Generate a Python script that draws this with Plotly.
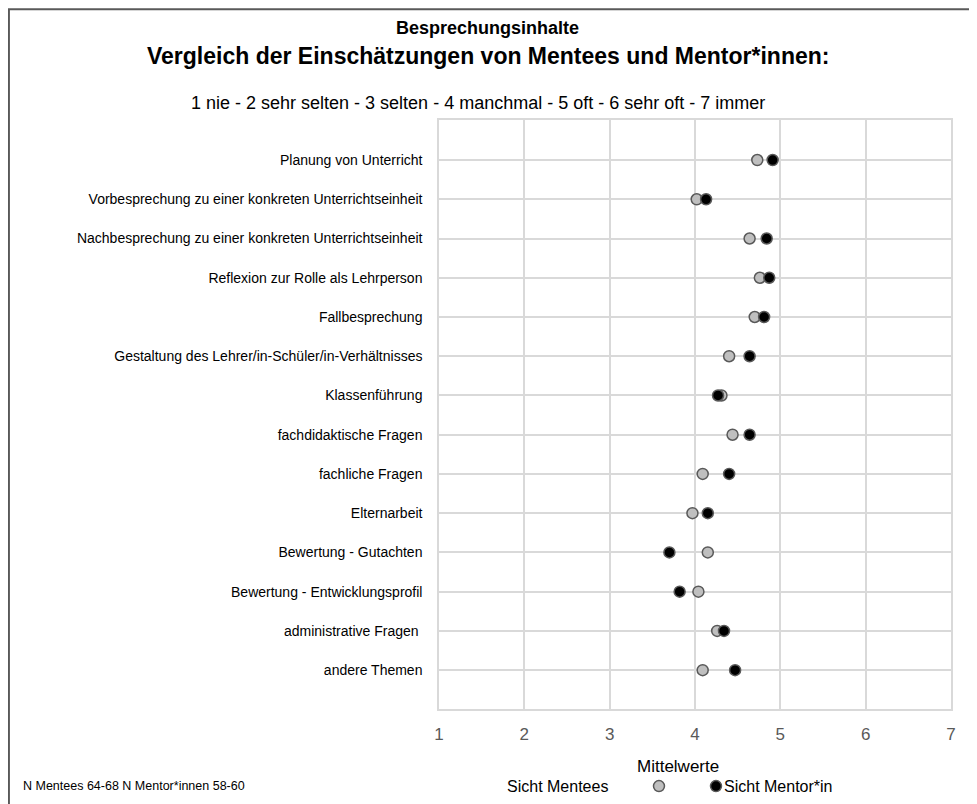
import plotly.graph_objects as go

categories = [
    "Planung von Unterricht",
    "Vorbesprechung zu einer konkreten Unterrichtseinheit",
    "Nachbesprechung zu einer konkreten Unterrichtseinheit",
    "Reflexion zur Rolle als Lehrperson",
    "Fallbesprechung",
    "Gestaltung des Lehrer/in-Schüler/in-Verhältnisses",
    "Klassenführung",
    "fachdidaktische Fragen",
    "fachliche Fragen",
    "Elternarbeit",
    "Bewertung - Gutachten",
    "Bewertung - Entwicklungsprofil",
    "administrative Fragen ",
    "andere Themen",
]
mentees = [4.73, 4.02, 4.64, 4.76, 4.70, 4.40, 4.31, 4.44, 4.09, 3.97, 4.15, 4.04, 4.26, 4.09]
mentoren = [4.91, 4.13, 4.84, 4.87, 4.81, 4.64, 4.27, 4.64, 4.40, 4.15, 3.70, 3.82, 4.34, 4.47]
x_ticks = [1, 2, 3, 4, 5, 6, 7]

FONT = "Liberation Sans, Arial, sans-serif"
GRID = "#d9d9d9"

fig = go.Figure()

# legend texts are placed as annotations (text left of the grey dot, as in the original)
fig.add_trace(go.Scatter(
    x=mentees, y=categories,
    mode="markers", name=" ",
    marker=dict(size=11, color="#bfbfbf", line=dict(color="#595959", width=1.5)),
))
fig.add_trace(go.Scatter(
    x=mentoren, y=categories,
    mode="markers", name=" ",
    marker=dict(size=11, color="#000000", line=dict(color="#595959", width=1.5)),
))

fig.update_xaxes(
    range=[1, 7], tickvals=x_ticks,
    showgrid=True, gridcolor=GRID, gridwidth=1.5,
    showline=True, linecolor=GRID, linewidth=1.5, mirror=True,
    zeroline=False, ticks="", ticklabelstandoff=9,
    tickfont=dict(size=17, color="#595959", family=FONT),
)
fig.update_yaxes(
    categoryorder="array", categoryarray=categories,
    range=[13.99, -1.02],
    showgrid=True, gridcolor=GRID, gridwidth=1.5,
    showline=True, linecolor=GRID, linewidth=1.5, mirror=True,
    zeroline=False, ticks="", ticklabelstandoff=12,
    tickfont=dict(size=14, color="#000000", family=FONT),
)


def note(text, x, y, size, xanchor="center"):
    return dict(text=text, x=x, y=y, xref="paper", yref="paper",
                xanchor=xanchor, yanchor="middle",
                showarrow=False, font=dict(size=size))


fig.update_layout(
    width=969, height=796,
    margin=dict(l=431, r=26, t=112, b=95, autoexpand=False),
    paper_bgcolor="white", plot_bgcolor="white",
    font=dict(family=FONT, color="#000000"),
    showlegend=True,
    legend=dict(
        orientation="h", x=0.3906, y=-0.131, xanchor="left", yanchor="middle",
        font=dict(size=16, family=FONT), itemwidth=30, entrywidth=12,
        bgcolor="rgba(0,0,0,0)",
    ),
    annotations=[
        note("<b>Besprechungsinhalte</b>", 0.0957, 1.156, 18),
        note("<b>Vergleich der Einschätzungen von Mentees und Mentor*innen:</b>", 0.0957, 1.109, 23),
        note("1 nie - 2 sehr selten - 3 selten - 4 manchmal - 5 oft - 6 sehr oft - 7 immer",
             0.0762, 1.029, 18),
        note("Mittelwerte", 0.467, -0.0968, 17),
        note("Sicht Mentees", 0.232, -0.131, 16),
        note("Sicht Mentor*in", 0.5527, -0.131, 16, xanchor="left"),
        note("N Mentees 64-68 N Mentor*innen 58-60", -0.8164, -0.131, 12.5, xanchor="left"),
    ],
    shapes=[
        dict(type="rect", xref="paper", yref="paper",
             x0=-0.84, x1=1.3, y0=-0.5, y1=1.188,
             line=dict(color="#595959", width=2), layer="below"),
    ],
)

fig.write_html("out.html")
